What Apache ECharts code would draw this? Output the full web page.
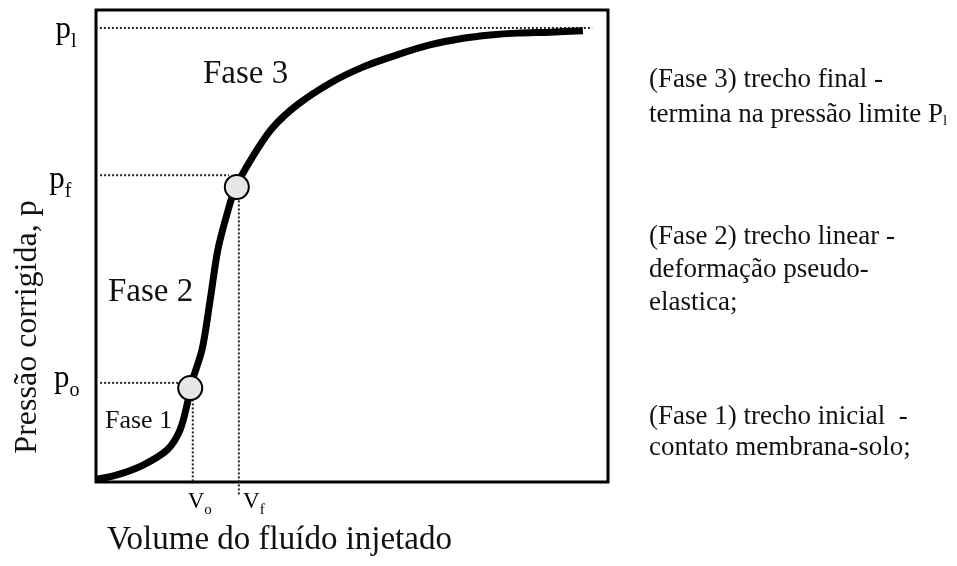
<!DOCTYPE html>
<html lang="pt">
<head>
    <meta charset="UTF-8">
    <title>Curva pressiométrica</title>
    <script src="https://cdn.jsdelivr.net/npm/echarts@6/dist/echarts.min.js"></script>
</head>
<body style="margin:0;background:#fff;">
<div id="main" style="width: 957px;height:566px;"></div>
<script type="text/javascript">
    // curva pressao x volume (unidades arbitrarias, 0-100)
    var curveX = [0.2, 4.1, 9.2, 13.9, 16.4, 18.0, 18.4, 20.7, 22.3, 23.8, 25.6, 27.3, 31.4, 34.6, 39.3, 45.7, 52.1, 58.8, 65.2, 71.7, 77.0, 82.2, 88.7, 95.1];
    var curveY = [0.6, 1.5, 3.6, 6.8, 11.0, 17.4, 20.1, 28.0, 38.6, 49.2, 56.8, 62.5, 70.3, 75.2, 79.9, 84.5, 87.9, 90.5, 92.6, 94.0, 94.7, 95.1, 95.3, 95.6];

    // pontos de mudanca de fase (po e pf)
    var phaseX = [18.4, 27.5];
    var phaseY = [19.9, 62.5];

    // niveis das linhas pontilhadas
    var pLevels = [96.2, 65.0, 21.0];      // pl, pf, po
    var pEnds = [96.9, 26.0, 17.0];
    var pNames = ['l', 'f', 'o'];
    var vLevels = [18.9, 27.9];            // Vo, Vf
    var vTops = [17.5, 60.5];
    var vBottoms = [0, -2.8];
    var vNames = ['o', 'f'];

    var notes = [
        '(Fase 3) trecho final -',
        'termina na pressão limite {p|P}{s|l}',
        '(Fase 2) trecho linear -',
        'deformação pseudo-',
        'elastica;',
        '(Fase 1) trecho inicial  -',
        'contato membrana-solo;'
    ];

    // ajustes finos dos rotulos (px)
    var pLabelShift = [[-3, 5], [-8, 8], [0, -1]];
    var vLabelShift = [[7, 0], [15, 0]];

    var serif = '"Liberation Serif", "DejaVu Serif", serif';
    var myChart = echarts.init(document.getElementById('main'));

    var curveData = [];
    for (var i = 0; i < curveX.length; i++) {
        curveData.push([curveX[i], curveY[i]]);
    }
    var phaseData = [];
    for (var i = 0; i < phaseX.length; i++) {
        phaseData.push([phaseX[i], phaseY[i]]);
    }

    var dotted = {type: [2, 2], width: 2, color: '#222'};
    var series = [];
    // linhas horizontais (p)
    for (var i = 0; i < pLevels.length; i++) {
        series.push({
            type: 'line', silent: true, symbol: 'none', clip: false, z: 1,
            data: [[i === 0 ? -0.8 : 0.8, pLevels[i]], [pEnds[i], pLevels[i]]],
            lineStyle: dotted
        });
    }
    // linhas verticais (V)
    for (var i = 0; i < vLevels.length; i++) {
        series.push({
            type: 'line', silent: true, symbol: 'none', clip: false, z: 1,
            data: [[vLevels[i], vTops[i]], [vLevels[i], vBottoms[i]]],
            lineStyle: dotted
        });
    }
    // curva
    series.push({
        type: 'line', silent: true, symbol: 'none', smooth: 0.3, z: 3,
        data: curveData,
        lineStyle: {width: 7, color: '#000'}
    });
    // pontos
    series.push({
        type: 'scatter', silent: true, z: 5,
        data: phaseData,
        symbolSize: 24,
        itemStyle: {color: '#e6e6e6', borderColor: '#000', borderWidth: 2, opacity: 1}
    });
    // rotulos p
    var pLabelData = [];
    for (var i = 0; i < pLevels.length; i++) {
        pLabelData.push({value: [0, pLevels[i]], sub: pNames[i], label: {offset: pLabelShift[i]}});
    }
    series.push({
        type: 'scatter', silent: true, clip: false, symbolSize: 1,
        itemStyle: {color: 'rgba(255,255,255,0)', opacity: 1},
        data: pLabelData,
        label: {
            show: true, position: 'left', distance: 16, color: '#000', opacity: 1,
            formatter: function (p) { return '{p|p}{s|' + p.data.sub + '}'; },
            rich: {
                p: {fontFamily: serif, fontSize: 31, color: '#000', lineHeight: 31, verticalAlign: 'top'},
                s: {fontFamily: serif, fontSize: 20, color: '#000', lineHeight: 37, verticalAlign: 'bottom'}
            }
        }
    });
    // rotulos V
    var vLabelData = [];
    for (var i = 0; i < vLevels.length; i++) {
        vLabelData.push({value: [vLevels[i], 0], sub: vNames[i], label: {offset: vLabelShift[i]}});
    }
    series.push({
        type: 'scatter', silent: true, clip: false, symbolSize: 1,
        itemStyle: {color: 'rgba(255,255,255,0)', opacity: 1},
        data: vLabelData,
        label: {
            show: true, position: 'bottom', distance: 8, color: '#000', opacity: 1,
            formatter: function (p) { return '{v|V}{s|' + p.data.sub + '}'; },
            rich: {
                v: {fontFamily: serif, fontSize: 23, color: '#000', lineHeight: 23, verticalAlign: 'top'},
                s: {fontFamily: serif, fontSize: 15, color: '#000', lineHeight: 27, verticalAlign: 'bottom'}
            }
        }
    });

    var graphics = [
        {type: 'text', left: 203, top: 58, style: {text: 'Fase 3', font: '33px ' + serif, fill: '#111'}},
        {type: 'text', left: 108, top: 276, style: {text: 'Fase 2', font: '33px ' + serif, fill: '#111'}},
        {type: 'text', left: 105, top: 408, style: {text: 'Fase 1', font: '26px ' + serif, fill: '#111'}, z: 1},
        {type: 'text', left: 107, top: 524, style: {text: 'Volume do fluído injetado', font: '33px ' + serif, fill: '#111'}},
        {type: 'text', x: 28, y: 327, rotation: Math.PI / 2,
            style: {text: 'Pressão corrigida, p', font: '32px ' + serif, fill: '#111', align: 'center', verticalAlign: 'middle'}}
    ];
    var noteY = [80, 115, 237, 270, 303, 417, 448];
    for (var i = 0; i < notes.length; i++) {
        graphics.push({
            type: 'text', x: 649, y: noteY[i],
            style: {
                text: notes[i], font: '27px ' + serif, fill: '#111', verticalAlign: 'middle',
                rich: {
                    p: {font: '27px ' + serif, fill: '#111'},
                    s: {font: '15px ' + serif, fill: '#111', verticalAlign: 'bottom'}
                }
            }
        });
    }

    myChart.setOption({
        backgroundColor: '#fff',
        animation: false,
        grid: {left: 96, top: 10, width: 512, height: 472, show: true, borderColor: '#000', borderWidth: 3},
        xAxis: {type: 'value', min: 0, max: 100, show: true, splitLine: {show: false},
            axisLine: {show: false}, axisTick: {show: false}, axisLabel: {show: false}},
        yAxis: {type: 'value', min: 0, max: 100, show: true, splitLine: {show: false},
            axisLine: {show: false}, axisTick: {show: false}, axisLabel: {show: false}},
        series: series,
        graphic: graphics
    });
</script>
</body>
</html>
